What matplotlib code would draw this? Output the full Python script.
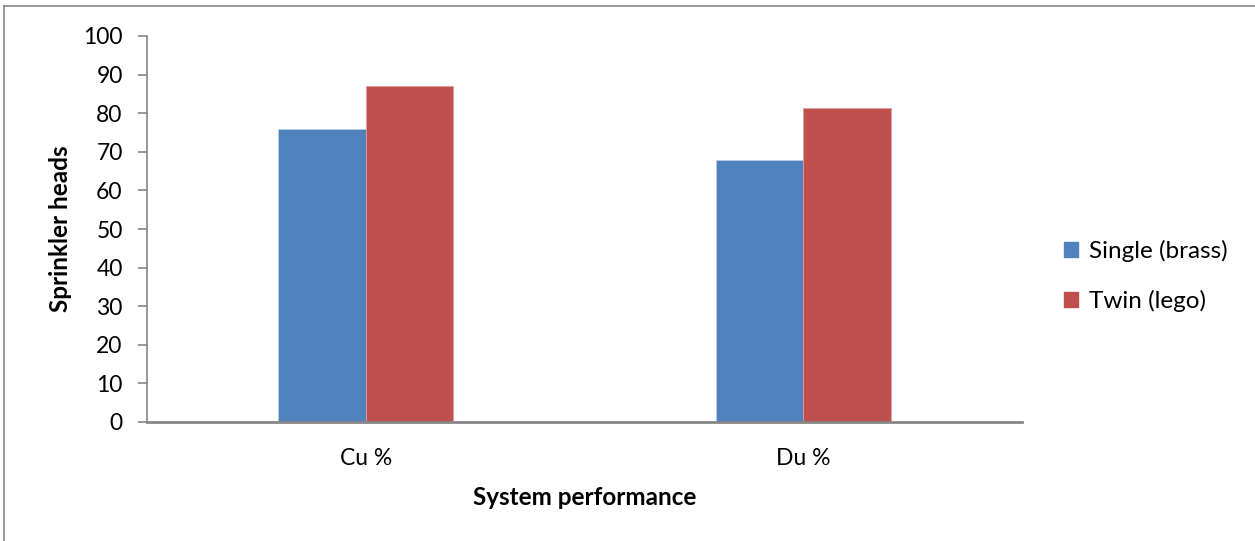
import matplotlib
matplotlib.use("Agg")
import matplotlib.pyplot as plt
import numpy as np
from matplotlib.lines import Line2D

categories = ["Cu %", "Du %"]
series_names = ["Single (brass)", "Twin (lego)"]
single_vals = [76, 68]
twin_vals = [87, 81.3]
yticks = list(range(0, 101, 10))

plt.rcParams['font.family'] = ['Lato', 'DejaVu Sans']

W, H = 1255, 541
fig = plt.figure(figsize=(W/100, H/100), dpi=100)
ax = fig.add_axes([147/W, 1-422/H, (1022-147)/W, (422-36)/H])

x = np.arange(len(categories))
bw = 0.2
c1 = "#4F81BD"
c2 = "#C0504D"
ax.bar(x - bw/2, single_vals, bw, color=c1, label=series_names[0], edgecolor="#BFD0E6", linewidth=0.5)
ax.bar(x + bw/2, twin_vals, bw, color=c2, label=series_names[1], edgecolor="#E0A09E", linewidth=0.5)

ax.set_xlim(-0.5, 1.5)
ax.set_ylim(0, 100)
ax.set_yticks(yticks)
ax.set_xticks(x)
ax.set_xticklabels(categories)
for s in ["top", "right"]:
    ax.spines[s].set_visible(False)
ax.spines["left"].set_color("#868686")
ax.spines["left"].set_linewidth(1.2)
ax.spines["bottom"].set_color("#868686")
ax.spines["bottom"].set_linewidth(2)
ax.tick_params(axis="y", direction="out", length=6.5, width=1.2, color="#868686", labelsize=16.5, pad=11)
ax.tick_params(axis="x", length=0, labelsize=16.5, pad=19)
ax.set_xlabel("System performance", fontsize=17.5, fontweight="bold", labelpad=12)
ax.set_ylabel("Sprinkler heads", fontsize=17.5, fontweight="bold", labelpad=8)

leg = fig.legend(handles=[plt.Rectangle((0, 0), 1, 1, color=c1), plt.Rectangle((0, 0), 1, 1, color=c2)],
                 labels=series_names, loc="center left", bbox_to_anchor=(1042/W, 1-276/H),
                 frameon=False, fontsize=17.5, handlelength=0.6, handleheight=0.6,
                 handletextpad=0.45, labelspacing=1.15)

# outer frame lines
fig.add_artist(Line2D([4/W, 1], [1-6/H, 1-6/H], color="#868686", linewidth=1.2, transform=fig.transFigure))
fig.add_artist(Line2D([4/W, 4/W], [0, 1-6/H], color="#868686", linewidth=1.2, transform=fig.transFigure))

fig.savefig("out.png", dpi=100)
